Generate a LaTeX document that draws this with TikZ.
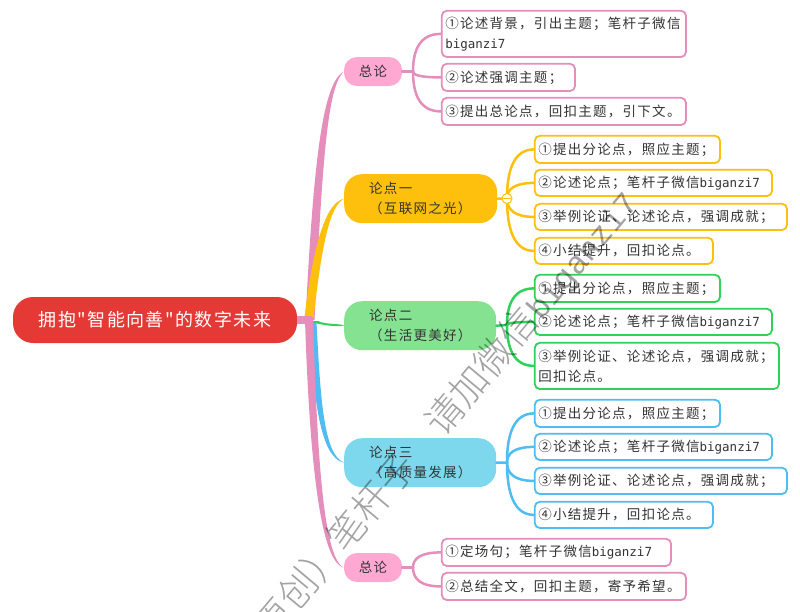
\documentclass[tikz,border=0pt]{standalone}
\usepackage{fontspec}
\usetikzlibrary{calc}
\setmainfont{Noto Sans CJK SC}
\newfontfamily\cjkbody[LetterSpace=9.5]{Noto Sans CJK SC}
\newfontfamily\cjkroot[LetterSpace=8]{Noto Sans CJK SC}
\newfontfamily\cjkmark{Noto Sans CJK SC Light}
\newfontfamily\latinmono{DejaVu Sans Mono}
\newfontfamily\markmono{Liberation Mono}
\newcommand\bgz{{\fontsize{12.5}{20}\selectfont\latinmono biganzi7}}
\definecolor{pinkline}{HTML}{E58DBB}
\definecolor{pinkfill}{HTML}{FFA8D2}
\definecolor{yel}{HTML}{FFBF0D}
\definecolor{grn}{HTML}{2FD158}
\definecolor{grnfill}{HTML}{84E291}
\definecolor{blu}{HTML}{4FBDF2}
\definecolor{blufill}{HTML}{7DD8EE}
\definecolor{rootred}{HTML}{E53935}
\definecolor{ink}{HTML}{333333}
\tikzset{
  leafbox/.style={draw,line width=1.8pt,fill=white,rounded corners=5pt,anchor=north west,inner xsep=3.5pt,inner ysep=0pt,align=left,text=ink,font=\fontsize{13.5}{20}\selectfont\cjkbody},
  midbox/.style={rounded corners=18pt,anchor=north west,inner xsep=25pt,inner ysep=0pt,align=left,text=ink,font=\fontsize{13.5}{20}\selectfont\cjkbody},
  endbox/.style={fill=pinkfill,rounded corners=13pt,anchor=center,minimum width=58pt,minimum height=29pt,inner sep=0pt,text=ink,font=\fontsize{13.5}{20}\selectfont\cjkbody},
  twig/.style={line width=2.5pt,line cap=round},
}
\newcommand\myleaf[7]{% name, colour, x0,y0,x1,y1, text
  \pgfmathsetmacro\boxw{#5-#3-1.8}\pgfmathsetmacro\boxh{#6-#4-1.8}
  \node[leafbox,draw=#2,minimum width=\boxw pt,minimum height=\boxh pt,text width=\boxw pt-7pt] (#1) at (#3+.9,#4+.9) {#7};}
\newcommand\mymid[7]{% name, fill, x0,y0,x1,y1, text
  \pgfmathsetmacro\boxw{#5-#3}\pgfmathsetmacro\boxh{#6-#4}
  \node[midbox,fill=#2,minimum width=\boxw pt,minimum height=\boxh pt,text width=\boxw pt-50pt] (#1) at (#3,#4) {#7};}
\newcommand\mytwig[3]{% colour, hub, leaf
  \draw[twig,#1] let \p1=(#2),\p2=(#3.west) in (\p1) .. controls ($(\x1,\y1)!.58!(\x1,\y2)$) and (\x1+7pt,\y2) .. (\p2);}
\newcommand\mytaper[7]{% colour, target, P0, c1, c2, half width, sign
  \fill[#1] ($(#3)+(-#6,0)$) .. controls ($(#4)+(-#6,0)$) and ($(#5)+(-#6*.5,#7*#6*.5)$) .. (#2.west)
     .. controls ($(#5)+(#6*.5,-#7*#6*.5)$) and ($(#4)+(#6,0)$) .. ($(#3)+(#6,0)$) -- cycle;}
\begin{document}
\begin{tikzpicture}[x=1pt,y=-1pt]
\useasboundingbox (0,0) rectangle (800,611);
% root and first level boxes
\node[fill=rootred,rounded corners=20pt,minimum width=284pt,minimum height=46pt,inner sep=0pt,text=white,font=\fontsize{18}{20}\selectfont\cjkroot] (root) at (155,320) {拥抱"智能向善"的数字未来};
\node[endbox] (m0) at (373,71.5) {总论};
\mymid{m1}{yel}{344}{174}{497}{223}{论点一\\（互联网之光）}
\mymid{m2}{grnfill}{344}{301}{496}{350}{论点二\\（生活更美好）}
\mymid{m3}{blufill}{344}{438}{496}{487}{论点三\\（高质量发展）}
\node[endbox] (m4) at (373,567.5) {总论};
% trunk
\coordinate (trunk) at (312,320);
\mytaper{blu}{m3}{313,322}{317,400}{322,456}{3.5}{1}
\mytaper{grn}{m2}{314,321}{322,325}{338,325}{4}{1}
\mytaper{pinkline}{m0}{310,320}{318,160}{325,85}{4.5}{-1}
\mytaper{yel}{m1}{309,317}{316,260}{325,205}{4.5}{-1}
\draw[pinkline,line width=7.5pt] (root.east) -- (trunk);
\mytaper{pinkline}{m4}{309,320}{313,440}{320,560}{4}{1}
% hubs
\coordinate (h0) at (413,71.5);
\coordinate (h1) at (507,198.5);
\coordinate (h2) at (507,325);
\coordinate (h3) at (507,462.5);
\coordinate (h4) at (413,567.5);
% leaves
\myleaf{a1}{pinkline}{440}{9}{686}{57}{①论述背景，引出主题；笔杆子微信\\\bgz}
\myleaf{a2}{pinkline}{440}{62}{575}{91}{②论述强调主题；}
\myleaf{a3}{pinkline}{440}{96}{686}{125}{③提出总论点，回扣主题，引下文。}
\myleaf{b1}{yel}{533}{134}{720}{163}{①提出分论点，照应主题；}
\myleaf{b2}{yel}{533}{168}{772}{196}{②论述论点；笔杆子微信\bgz}
\myleaf{b3}{yel}{533}{202}{787}{230}{③举例论证、论述论点，强调成就；}
\myleaf{b4}{yel}{533}{236}{713}{264}{④小结提升，回扣论点。}
\myleaf{c1}{grn}{533}{273}{720}{302}{①提出分论点，照应主题；}
\myleaf{c2}{grn}{533}{307}{772}{335}{②论述论点；笔杆子微信\bgz}
\myleaf{c3}{grn}{533}{341}{779}{389}{③举例论证、论述论点，强调成就；\\回扣论点。}
\myleaf{d1}{blu}{533}{398}{720}{427}{①提出分论点，照应主题；}
\myleaf{d2}{blu}{533}{432}{772}{460}{②论述论点；笔杆子微信\bgz}
\myleaf{d3}{blu}{533}{466}{787}{494}{③举例论证、论述论点，强调成就；}
\myleaf{d4}{blu}{533}{500}{713}{528}{④小结提升，回扣论点。}
\myleaf{e1}{pinkline}{440}{537}{671}{566}{①定场句；笔杆子微信\bgz}
\myleaf{e2}{pinkline}{440}{571}{686}{600}{②总结全文，回扣主题，寄予希望。}
% connectors
\draw[twig,pinkline] (m0.east) -- (h0);
\draw[twig,yel] (m1.east) -- (h1);
\draw[twig,grn] (m2.east) -- (h2);
\draw[twig,blu] (m3.east) -- (h3);
\draw[twig,pinkline] (m4.east) -- (h4);
\mytwig{pinkline}{h0}{a1}\mytwig{pinkline}{h0}{a2}\mytwig{pinkline}{h0}{a3}
\mytwig{yel}{h1}{b1}\mytwig{yel}{h1}{b2}\mytwig{yel}{h1}{b3}\mytwig{yel}{h1}{b4}
\mytwig{grn}{h2}{c1}\mytwig{grn}{h2}{c2}\mytwig{grn}{h2}{c3}
\mytwig{blu}{h3}{d1}\mytwig{blu}{h3}{d2}\mytwig{blu}{h3}{d3}\mytwig{blu}{h3}{d4}
\mytwig{pinkline}{h4}{e1}\mytwig{pinkline}{h4}{e2}
% collapse toggle
\node[circle,draw=yel,fill=white,line width=1pt,minimum size=10pt,inner sep=0pt] (tog) at (h1) {};
\draw[yel,line width=1pt] ($(tog.west)+(1.5,0)$) -- ($(tog.east)+(-1.5,0)$);
% watermark
\begin{scope}
\clip (0,0) rectangle (800,611);
\node[rotate=50,anchor=west,inner sep=0pt,text=black,text opacity=.36,font=\fontsize{38}{40}\selectfont\cjkmark] (mark) at (238,663) {（原创）笔杆子\hspace{1em}请加微信{\fontsize{32}{40}\selectfont\markmono biganzi7}};
\end{scope}
\end{tikzpicture}
\end{document}
